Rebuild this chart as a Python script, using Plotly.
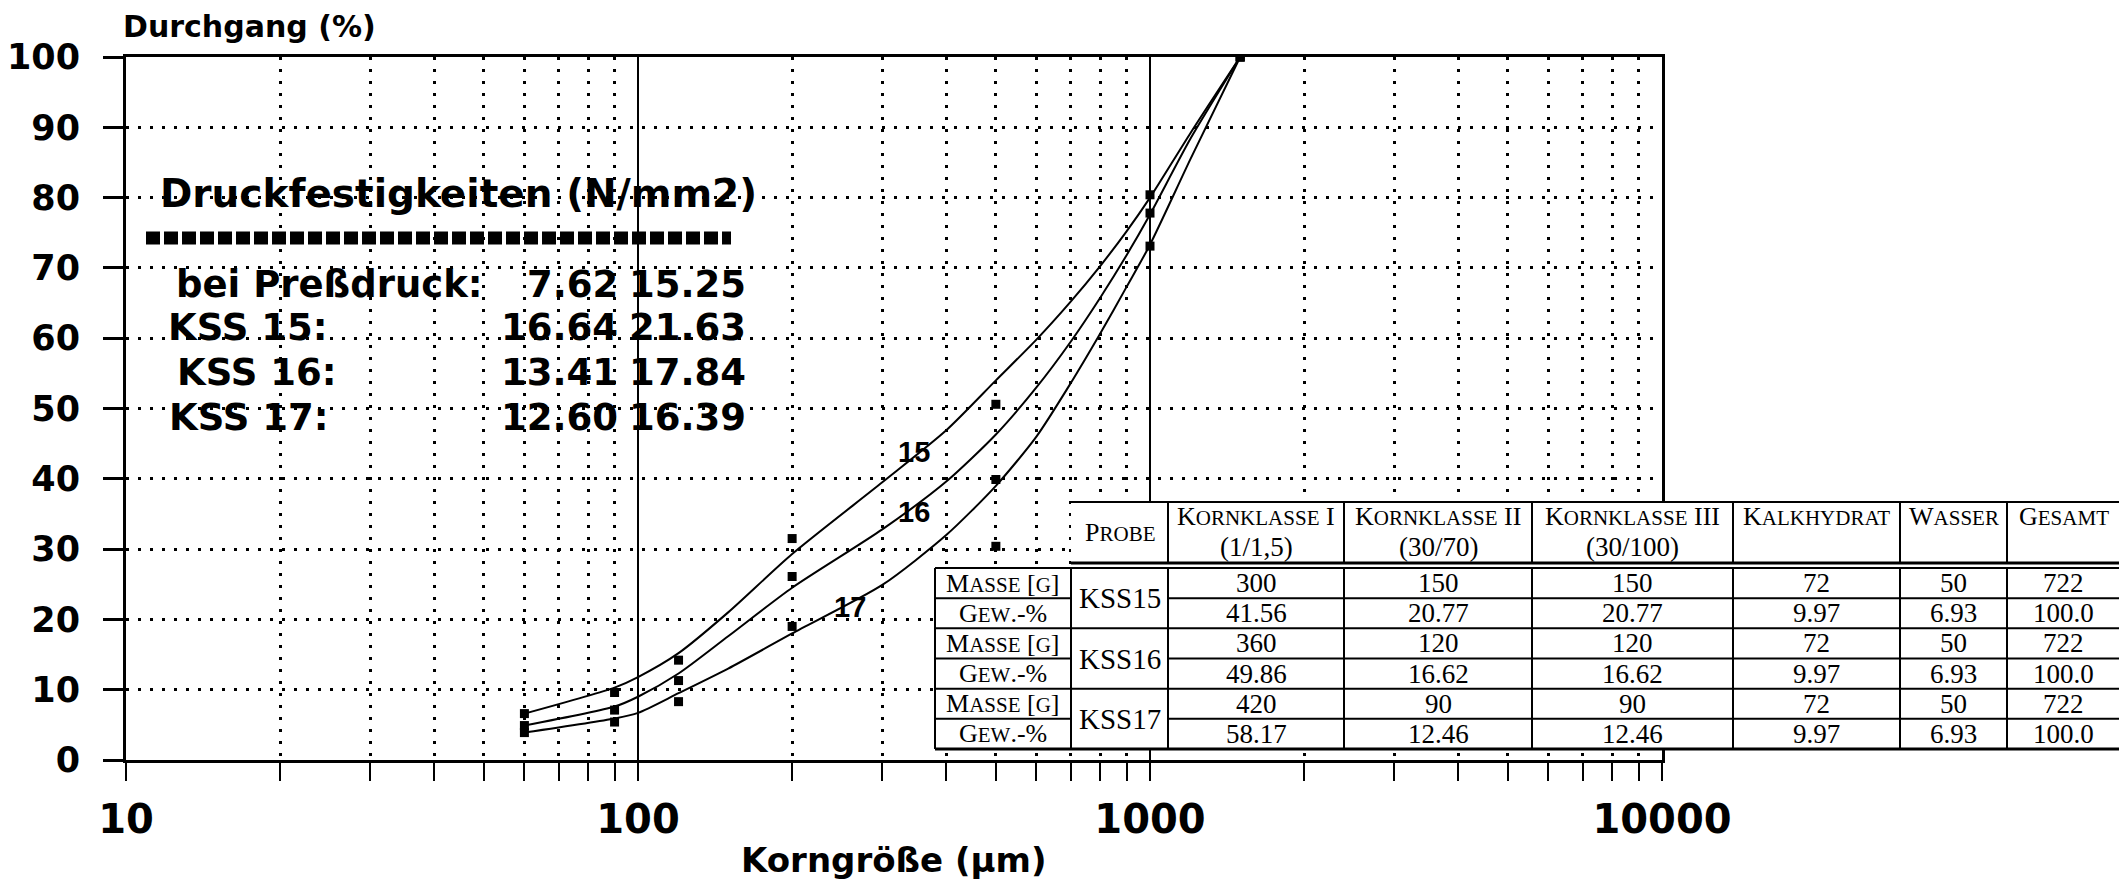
import math
import plotly.graph_objects as go

# ---------------- data ----------------
sieve_um = [60, 90, 120, 200, 500, 1000, 1500]
kss15_pass = [6.6, 9.6, 14.2, 31.5, 50.6, 80.4, 100]
kss16_pass = [4.9, 7.1, 11.3, 26.1, 39.9, 77.8, 100]
kss17_pass = [3.9, 5.4, 8.3, 19.0, 30.4, 73.1, 100]

curve_x = [60, 90, 100, 120, 150, 200, 300, 400, 500, 600, 700, 800, 900, 1000, 1200, 1500]
curve15 = [6.6, 10.3, 11.8, 15.2, 21.0, 29.3, 39.5, 46.9, 54.0, 59.8, 65.2, 70.3, 75.2, 80.0, 89.2, 100]
curve16 = [4.9, 7.6, 9.0, 12.3, 17.6, 24.5, 32.8, 39.6, 46.3, 53.0, 59.5, 65.8, 71.8, 77.6, 88.4, 100]
curve17 = [3.9, 5.9, 6.7, 9.5, 13.0, 18.0, 24.9, 32.0, 39.0, 46.0, 53.6, 60.7, 67.3, 73.3, 85.5, 100]

curve_labels = ["15", "16", "17"]
curve_label_x = [346, 346, 259]
curve_label_y = [43.8, 35.3, 21.8]

x_tickvals = [10, 100, 1000, 10000]
x_ticktext = ["10", "100", "1000", "10000"]
x_minorvals = [m * d for d in (10, 100, 1000) for m in range(2, 10)]
y_tickvals = [0, 10, 20, 30, 40, 50, 60, 70, 80, 90, 100]

strength_title = "Druckfestigkeiten (N/mm2)"
strength_rows = ["bei Preßdruck:", "KSS 15:", "KSS 16:", "KSS 17:"]
strength_col1 = ["7.62", "16.64", "13.41", "12.60"]
strength_col2 = ["15.25", "21.63", "17.84", "16.39"]

table_heads = ["Kornklasse I", "Kornklasse II", "Kornklasse III", "Kalkhydrat", "Wasser", "Gesamt"]
table_subheads = ["(1/1,5)", "(30/70)", "(30/100)", "", "", ""]
table_samples = ["KSS15", "KSS16", "KSS17"]
table_row_kinds = ["Masse [g]", "Gew.-%"]
masse_g = [
    ["300", "150", "150", "72", "50", "722"],
    ["360", "120", "120", "72", "50", "722"],
    ["420", "90", "90", "72", "50", "722"],
]
gew_pct = [
    ["41.56", "20.77", "20.77", "9.97", "6.93", "100.0"],
    ["49.86", "16.62", "16.62", "9.97", "6.93", "100.0"],
    ["58.17", "12.46", "12.46", "9.97", "6.93", "100.0"],
]

# ---------------- layout geometry (screen pixels) ----------------
OFF = 8                       # default page margin of the html body
SW, SH = 2127, 881
W, H = SW - OFF, SH - OFF
PL, PR, PT, PB = 126, 1662, 57, 760


def px(x):
    return (x - PL) / (PR - PL)


def py(y):
    return (PB - y) / (PB - PT)


BOLD = "DejaVu Sans"
SERIF = "Liberation Serif"

fig = go.Figure()

for ys in (curve15, curve16, curve17):
    fig.add_trace(go.Scatter(x=curve_x, y=ys, mode="lines",
                             line=dict(color="black", width=2, shape="spline", smoothing=0.7),
                             hoverinfo="skip", showlegend=False))
for ys in (kss15_pass, kss16_pass, kss17_pass):
    fig.add_trace(go.Scatter(x=sieve_um, y=ys, mode="markers",
                             marker=dict(symbol="square", size=9, color="black"),
                             showlegend=False))

annotations = []
shapes = []

# axis titles
annotations.append(dict(text="Durchgang (%)", x=px(121), y=py(27), xref="paper", yref="paper",
                        xanchor="left", yanchor="middle", showarrow=False,
                        font=dict(family=BOLD, size=30, color="black", weight="bold")))
annotations.append(dict(text="Korngröße (µm)", x=px(893), y=py(860), xref="paper", yref="paper",
                        xanchor="center", yanchor="middle", showarrow=False,
                        font=dict(family=BOLD, size=34, color="black", weight="bold")))

# curve labels (log axis -> annotation x in log10 units)
for t, cx, cy in zip(curve_labels, curve_label_x, curve_label_y):
    annotations.append(dict(text=t, x=math.log10(cx), y=cy, xref="x", yref="y", showarrow=False,
                            xanchor="center", yanchor="middle",
                            font=dict(family="Liberation Sans Narrow, Liberation Sans", size=29,
                                      color="black", weight="bold")))

# strength text block
annotations.append(dict(text=strength_title, x=px(158), y=py(194), xref="paper", yref="paper",
                        xanchor="left", yanchor="middle", showarrow=False,
                        font=dict(family=BOLD, size=39, color="black", weight="bold")))
shapes.append(dict(type="line", xref="paper", yref="paper", x0=px(146), x1=px(731),
                   y0=py(238), y1=py(238), line=dict(color="black", width=13, dash="14px,4px")))
row_y = [284, 327, 372, 417]
row_lx = [174, 166, 175, 167]
for lab, v1, v2, yy, lx in zip(strength_rows, strength_col1, strength_col2, row_y, row_lx):
    f = dict(family=BOLD, size=37, color="black", weight="bold")
    annotations.append(dict(text=lab, x=px(lx), y=py(yy), xref="paper", yref="paper",
                            xanchor="left", yanchor="middle", showarrow=False, font=f))
    annotations.append(dict(text=v1, x=px(620), y=py(yy), xref="paper", yref="paper",
                            xanchor="right", yanchor="middle", showarrow=False, font=f))
    annotations.append(dict(text=v2, x=px(748), y=py(yy), xref="paper", yref="paper",
                            xanchor="right", yanchor="middle", showarrow=False, font=f))


# ---------------- table ----------------
def smallcaps(text, small):
    out = []
    cur_small = None
    buf = ""
    for ch in text:
        is_small = ch.isalpha() and ch.islower()
        c = ch.upper() if is_small else ch
        if cur_small is None or is_small == cur_small:
            buf += c
            cur_small = is_small
        else:
            out.append((buf, cur_small))
            buf = c
            cur_small = is_small
    if buf:
        out.append((buf, cur_small))
    s = ""
    for seg, sm in out:
        if sm:
            s += "<span style='font-size:%dpx'>%s</span>" % (small, seg)
        else:
            s += seg
    return s


col_edges = [1071, 1168, 1344, 1532, 1733, 1900, 2007, 2120]
left_col = (935, 1071)
h_top, h_bot, b_top, b_bot = 502, 563, 568, 749
n_rows = 6
row_h = (b_bot - b_top) / n_rows
row_edges = [b_top + i * row_h for i in range(n_rows + 1)]


def rect(x0, x1, y0, y1, **kw):
    return dict(type="rect", xref="paper", yref="paper", x0=px(x0), x1=px(x1),
                y0=py(y1), y1=py(y0), layer="above", **kw)


def hline(x0, x1, y, w=2):
    return dict(type="line", xref="paper", yref="paper", x0=px(x0), x1=px(x1), y0=py(y), y1=py(y),
                layer="above", line=dict(color="black", width=w))


def vline(x, y0, y1, w=2):
    return dict(type="line", xref="paper", yref="paper", x0=px(x), x1=px(x), y0=py(y0), y1=py(y1),
                layer="above", line=dict(color="black", width=w))


shapes.append(rect(col_edges[0], col_edges[-1] + 2, h_top - 1, b_top, fillcolor="white",
                   line=dict(width=0)))
shapes.append(rect(left_col[0], col_edges[-1] + 2, b_top, b_bot + 1, fillcolor="white",
                   line=dict(width=0)))
shapes.append(hline(col_edges[0], col_edges[-1], h_top, 2))
shapes.append(hline(col_edges[0], col_edges[-1], h_bot, 3))
shapes.append(hline(left_col[0], col_edges[-1], b_top, 2))
shapes.append(hline(left_col[0], col_edges[-1], b_bot, 3))
for x in col_edges[1:]:
    shapes.append(vline(x, h_top, h_bot))
for x in [left_col[0]] + col_edges:
    shapes.append(vline(x, b_top, b_bot))
for i in range(1, n_rows):
    y = row_edges[i]
    shapes.append(hline(left_col[0], left_col[1], y))
    shapes.append(hline(col_edges[1], col_edges[-1], y))
    if i % 2 == 0:
        shapes.append(hline(col_edges[0], col_edges[1], y))

BIG, SMALL = 26, 21


def cell(text, x, y, size=BIG):
    annotations.append(dict(text=text, x=px(x), y=py(y), xref="paper", yref="paper",
                            xanchor="center", yanchor="middle", showarrow=False,
                            font=dict(family=SERIF, size=size, color="black")))


cell(smallcaps("Probe", SMALL), (col_edges[0] + col_edges[1]) / 2, 532)
for j, (hd, sub) in enumerate(zip(table_heads, table_subheads)):
    cx = (col_edges[j + 1] + col_edges[j + 2]) / 2
    cell(smallcaps(hd, SMALL), cx, 516)
    if sub:
        cell(sub, cx, 547, 27)

for g, sample in enumerate(table_samples):
    r0 = 2 * g
    cell(sample, (col_edges[0] + col_edges[1]) / 2, row_edges[r0 + 1], 29)
    for k, (kind, vals) in enumerate(zip(table_row_kinds, (masse_g[g], gew_pct[g]))):
        yc = (row_edges[r0 + k] + row_edges[r0 + k + 1]) / 2
        cell(smallcaps(kind, SMALL), (left_col[0] + left_col[1]) / 2, yc)
        for j, v in enumerate(vals):
            cx = (col_edges[j + 1] + col_edges[j + 2]) / 2
            cell(v, cx, yc, 27)

dots = "3px,9px"
fig.update_layout(
    width=W, height=H,
    margin=dict(l=PL - OFF, r=W - (PR - OFF), t=PT - OFF, b=H - (PB - OFF), autoexpand=False),
    paper_bgcolor="white", plot_bgcolor="white",
    showlegend=False,
    annotations=annotations,
    shapes=shapes,
    xaxis=dict(type="log", range=[1, 4], tickvals=x_tickvals, ticktext=x_ticktext,
               ticks="outside", ticklen=18, tickwidth=2, tickcolor="black",
               showgrid=True, gridcolor="black", gridwidth=2,
               showline=True, linecolor="black", linewidth=3, mirror=True,
               zeroline=False, ticklabelstandoff=4,
               tickfont=dict(family=BOLD, size=40, color="black", weight="bold"),
               minor=dict(tickvals=x_minorvals, ticks="outside", ticklen=18, tickwidth=2,
                          tickcolor="black", showgrid=True, gridcolor="black", gridwidth=3,
                          griddash=dots)),
    yaxis=dict(range=[0, 100], tickvals=y_tickvals, ticks="outside", ticklen=20, tickwidth=3,
               tickcolor="black", showgrid=True, gridcolor="black", gridwidth=3, griddash=dots,
               showline=True, linecolor="black", linewidth=3, mirror=True, zeroline=False,
               ticklabelstandoff=16,
               tickfont=dict(family=BOLD, size=35, color="black", weight="bold")),
)

fig.write_html("out.html")
